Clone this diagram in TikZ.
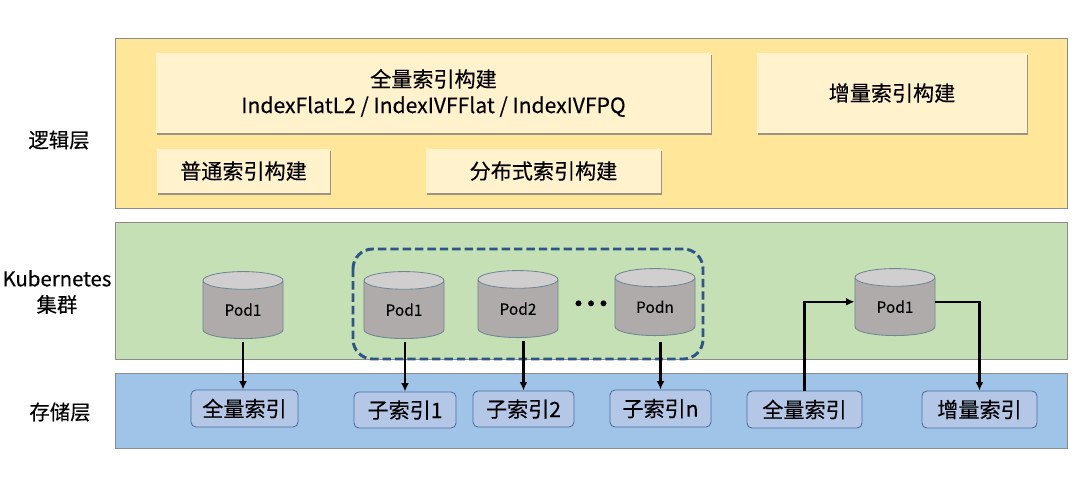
\documentclass[tikz,border=0pt]{standalone}
\usepackage{fontspec}
\setmainfont[FakeBold=0.3]{Noto Sans CJK SC}
\usetikzlibrary{shapes.geometric,shadows,arrows.meta}
\definecolor{logicfill}{HTML}{FFE699}
\definecolor{logicbox}{HTML}{FFF2CC}
\definecolor{clusterfill}{HTML}{C5E0B4}
\definecolor{storefill}{HTML}{9FC4E7}
\definecolor{indexfill}{HTML}{B4C7E7}
\definecolor{indexline}{HTML}{4A6E9E}
\definecolor{podbody}{HTML}{AFABAB}
\definecolor{podtop}{HTML}{D0CECE}
\definecolor{podline}{HTML}{6F8791}
\definecolor{groupline}{HTML}{2F5587}
\tikzset{
    boxsize/.style 2 args={minimum width=#1*0.025cm, minimum height=#2*0.025cm},
    layer/.style={draw=black!45, line width=0.6pt, inner sep=0pt},
    logicnode/.style={fill=logicbox, inner sep=0pt, align=center, font=\fontsize{15}{18.5}\selectfont,
        drop shadow={shadow xshift=0.6pt, shadow yshift=-1.2pt, opacity=0.8}},
    indexnode/.style={draw=indexline, fill=indexfill, rounded corners=3.5pt, line width=0.6pt,
        inner sep=0pt, font=\fontsize{15}{18}\selectfont},
    podnode/.style={cylinder, shape border rotate=90, draw=podline, line width=0.6pt, aspect=0.48,
        cylinder uses custom fill, cylinder body fill=podbody, cylinder end fill=podtop, anchor=south,
        minimum width=2cm, minimum height=1.675cm, inner sep=0pt, font=\fontsize{11}{13}\selectfont},
    sidelabel/.style={font=\fontsize{14.5}{18.5}\selectfont, align=center},
    link/.style={-{Latex[length=6pt,width=5.5pt]}, line width=1.6pt},
}
\begin{document}
\begin{tikzpicture}[x=0.025cm, y=-0.025cm]
    \useasboundingbox (0,0) rectangle (1080,489);
    \node[layer, fill=logicfill, boxsize={952}{170}] (logic) at (591,123) {};
    \node[layer, fill=clusterfill, boxsize={952}{137}] (cluster) at (591,290.5) {};
    \node[layer, fill=storefill, boxsize={952}{75}] (store) at (591,410.5) {};

    \node[sidelabel] (logiclabel) at (59,140) {逻辑层};
    \node[sidelabel] (clusterlabel) at (57,292) {Kubernetes\\集群};
    \node[sidelabel] (storelabel) at (60,412) {存储层};

    \node[logicnode, boxsize={555}{80}] (full) at (433.5,93) {全量索引构建\\IndexFlatL2 / IndexIVFFlat / IndexIVFPQ};
    \node[logicnode, boxsize={270}{80}] (incr) at (892,93) {增量索引构建};
    \node[logicnode, boxsize={173}{44}] (plain) at (243.5,171) {普通索引构建};
    \node[logicnode, boxsize={235}{44}] (dist) at (543.5,171) {分布式索引构建};

    \node[podnode] (podA) at (243,339) {Pod1};
    \node[podnode] (podB) at (404,339) {Pod1};
    \node[podnode] (podC) at (518,338) {Pod2};
    \node[podnode] (podD) at (655,336) {Podn};
    \node[podnode] (podE) at (895,336) {Pod1};
    \node[font=\fontsize{19}{20}\selectfont] (dots) at (591,307) {·\hspace{-10.1pt}·\hspace{-10.1pt}·};

    \draw[groupline, dash pattern=on 6pt off 2.8pt, line width=2.1pt, rounded corners=14pt] (353,249) rectangle (703,359);

    \node[indexnode, boxsize={107}{37}] (idxA) at (244.5,408.5) {全量索引};
    \node[indexnode, boxsize={102}{36}] (idxB) at (405,410) {子索引1};
    \node[indexnode, boxsize={101}{36}] (idxC) at (523.5,409) {子索引2};
    \node[indexnode, boxsize={101}{37}] (idxD) at (660.5,408.5) {子索引n};
    \node[indexnode, boxsize={115}{37}] (idxE) at (804.5,409.5) {全量索引};
    \node[indexnode, boxsize={115}{37}] (idxF) at (979.5,409.5) {增量索引};

    \draw[link, shorten <=2pt] (podA.south) -- (podA.south |- idxA.north);
    \draw[link, shorten <=2pt] (idxB.north |- podB.south) -- (idxB.north);
    \draw[link, shorten <=2pt] (idxC.north |- podC.south) -- (idxC.north);
    \draw[link, shorten <=4pt] (idxD.north |- podD.south) -- (idxD.north);
    \draw[link] (idxE.north) |- ([yshift=3.5pt]podE.west);
    \draw[link] ([yshift=3.5pt]podE.east) -| (idxF.north);
\end{tikzpicture}
\end{document}
